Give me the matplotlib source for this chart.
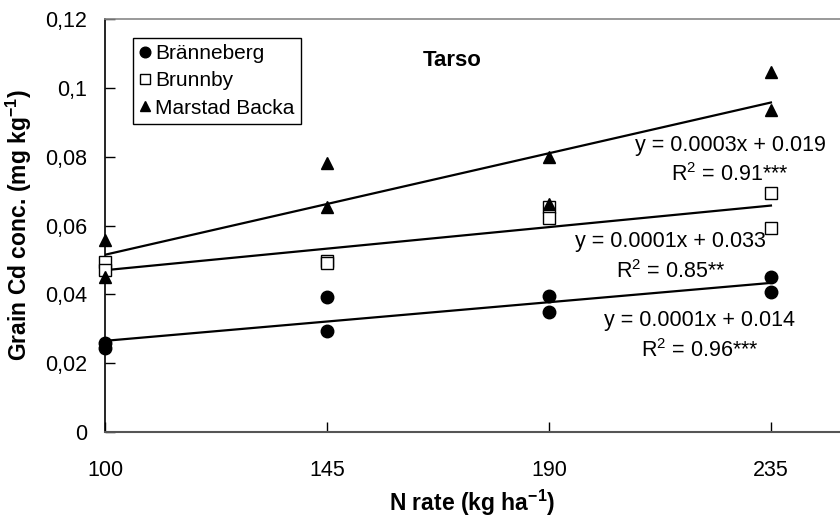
import numpy as np
import matplotlib
matplotlib.use("Agg")
import matplotlib.pyplot as plt

plt.rcParams['font.family'] = ['Liberation Sans', 'DejaVu Sans']
plt.rcParams['mathtext.fontset'] = 'custom'
plt.rcParams['mathtext.rm'] = 'Liberation Sans'
plt.rcParams['mathtext.it'] = 'Liberation Sans:italic'
plt.rcParams['mathtext.bf'] = 'Liberation Sans:bold'

n_rate = [100, 145, 190, 235]
x_ticks = [100, 145, 190, 235]
y_ticks = [0, 0.02, 0.04, 0.06, 0.08, 0.10, 0.12]
y_tick_labels = ["0", "0,02", "0,04", "0,06", "0,08", "0,1", "0,12"]

# two replicate values per N rate
branneberg_x = [100, 100, 145, 145, 190, 190, 235, 235]
branneberg_y = [0.0260, 0.0245, 0.0392, 0.0293, 0.0396, 0.0349, 0.0451, 0.0408]
brunnby_x = [100, 100, 145, 145, 190, 190, 235, 235]
brunnby_y = [0.0494, 0.0471, 0.0497, 0.0490, 0.0654, 0.0622, 0.0694, 0.0592]
marstad_x = [100, 100, 145, 145, 190, 190, 235, 235]
marstad_y = [0.0558, 0.0451, 0.0781, 0.0655, 0.0800, 0.0663, 0.1047, 0.0936]

series_names = ["Bränneberg", "Brunnby", "Marstad Backa"]
eq_lines = ["y = 0.0001x + 0.014", "y = 0.0001x + 0.033", "y = 0.0003x + 0.019"]
r2_lines = ["R$^2$ = 0.96***", "R$^2$ = 0.85**", "R$^2$ = 0.91***"]

fig = plt.figure(figsize=(8.4, 5.25), dpi=100)
ax = fig.add_axes([0.125, 0.177, 0.875, 0.7867])

styles = [dict(marker='o', mfc='black', mec='black'),
          dict(marker='s', mfc='white', mec='black', mew=1.0),
          dict(marker='^', mfc='black', mec='black')]
datasets = [(branneberg_x, branneberg_y), (brunnby_x, brunnby_y), (marstad_x, marstad_y)]

for (xs, ys), st, name in zip(datasets, styles, series_names):
    coef = np.polyfit(xs, ys, 1)
    xl = np.array([min(n_rate), max(n_rate)])
    ax.plot(xl, np.polyval(coef, xl), color='black', lw=1.6, zorder=2)
    ax.plot(xs, ys, linestyle='none', markersize=9, label=name, zorder=3, clip_on=False, **st)

FS = 15.5
# equation annotations (Bränneberg, Brunnby, Marstad Backa)
eq_pos = [(220.6, 0.0325, 0.0238), (214.6, 0.0553, 0.0466), (226.7, 0.0834, 0.0747)]
for (xc, y1, y2), e, r in zip(eq_pos, eq_lines, r2_lines):
    ax.text(xc, y1, e, fontsize=FS, ha='center', va='center')
    ax.text(xc, y2, r, fontsize=FS, ha='center', va='center')

ax.text(170.4, 0.108, "Tarso", fontsize=16, fontweight='bold', ha='center', va='center')

ax.set_xlim(100, 249)
ax.set_ylim(0, 0.12)
ax.set_xticks(x_ticks)
ax.set_xticklabels([str(v) for v in x_ticks], fontsize=FS)
ax.set_yticks(y_ticks)
ax.set_yticklabels(y_tick_labels, fontsize=FS)
ax.tick_params(axis='both', direction='in', length=7, width=1, colors='black')
ax.tick_params(axis='x', pad=20)
ax.tick_params(axis='y', pad=13)

ax.spines['right'].set_visible(False)
ax.spines['left'].set_color('black')
ax.spines['left'].set_linewidth(1.2)
ax.spines['bottom'].set_color('#555555')
ax.spines['bottom'].set_linewidth(1.5)
ax.spines['top'].set_color('#888888')
ax.spines['top'].set_linewidth(1.2)

ax.set_xlabel("N rate (kg ha$^{\\mathbf{-1}}$)", fontsize=16.5, fontweight='bold', labelpad=5)
ax.set_ylabel("Grain Cd conc. (mg kg$^{\\mathbf{-1}}$)", fontsize=16.5, fontweight='bold', labelpad=8)

leg = ax.legend(loc='upper left', bbox_to_anchor=(0.0385, 0.955), fontsize=15,
                frameon=True, fancybox=False, edgecolor='black', framealpha=1,
                handlelength=0.5, handletextpad=0.25, borderpad=0.3, labelspacing=0.4,
                borderaxespad=0, markerscale=0.85)
leg.get_frame().set_linewidth(1.0)

fig.savefig("out.png", dpi=100)
